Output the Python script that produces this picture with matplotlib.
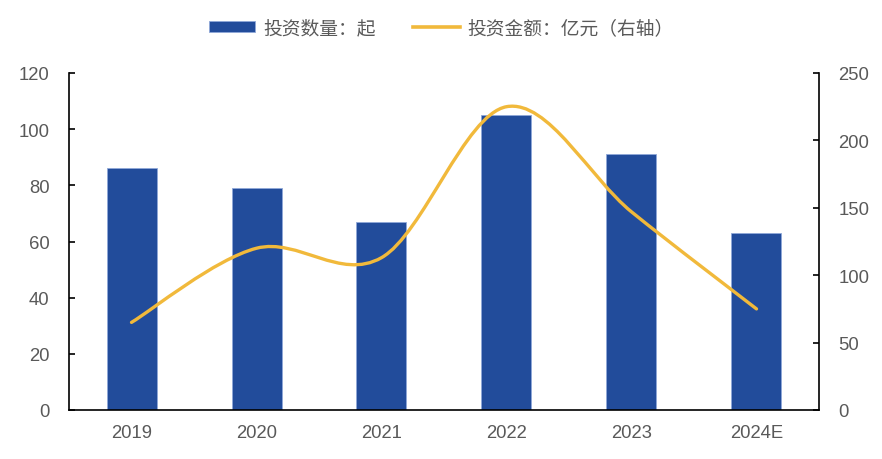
import matplotlib
matplotlib.use("Agg")
import matplotlib.pyplot as plt
import numpy as np
from matplotlib.path import Path
from matplotlib.patches import PathPatch, Patch
from matplotlib.lines import Line2D

categories = ["2019", "2020", "2021", "2022", "2023", "2024E"]
deal_counts = [86, 79, 67, 105, 91, 63]
amounts = [65, 120, 113, 225, 147, 75]
left_ticks = [0, 20, 40, 60, 80, 100, 120]
right_ticks = [0, 50, 100, 150, 200, 250]
label_bar = "投资数量：起"
label_line = "投资金额：亿元（右轴）"

BAR_C = "#224C9B"
LINE_C = "#F1B93B"
TXT_C = "#595959"

plt.rcParams['font.family'] = ['Liberation Sans', 'Noto Sans CJK SC', 'DejaVu Sans']

fig = plt.figure(figsize=(8.82, 4.6), dpi=100)
ax = fig.add_axes([69/882, 1-411/460, (819-69)/882, (411-74)/460])
x = np.arange(len(categories))
ax.bar(x, deal_counts, width=0.4, color=BAR_C, edgecolor="#8FA8D8", linewidth=0.6, zorder=2)
ax.set_xlim(-0.5, len(categories)-0.5)
ax.set_ylim(0, 120)
ax.set_yticks(left_ticks)
ax.set_xticks(x)
ax.set_xticklabels(categories)
for s in ["top", "right"]:
    ax.spines[s].set_visible(False)
ax.spines["left"].set_linewidth(1.2)
ax.spines["bottom"].set_linewidth(1.2)
ax.tick_params(axis="y", direction="in", length=4, width=1.2, labelsize=13.3, labelcolor=TXT_C, pad=14)
ax.tick_params(axis="x", length=0, labelsize=13.3, labelcolor=TXT_C, pad=10)

ax2 = ax.twinx()
ax2.set_ylim(0, 250)
ax2.set_yticks(right_ticks)
for s in ["top", "left", "bottom"]:
    ax2.spines[s].set_visible(False)
ax2.spines["right"].set_linewidth(1.2)
ax2.tick_params(axis="y", direction="in", length=4, width=1.2, labelsize=13.3, labelcolor=TXT_C, pad=14)

# smooth curve (Catmull-Rom as cubic Bezier) through the data points
pts = np.column_stack([x, amounts]).astype(float)
ext = np.vstack([pts[0], pts, pts[-1]])
verts = [tuple(pts[0])]
codes = [Path.MOVETO]
for i in range(len(pts)-1):
    p0, p1, p2, p3 = ext[i], ext[i+1], ext[i+2], ext[i+3]
    c1 = p1 + (p2 - p0) / 6
    c2 = p2 - (p3 - p1) / 6
    verts += [tuple(c1), tuple(c2), tuple(p2)]
    codes += [Path.CURVE4]*3
patch = PathPatch(Path(verts, codes), facecolor="none", edgecolor=LINE_C, linewidth=2.4,
                  capstyle="round", joinstyle="round", zorder=3)
ax2.add_patch(patch)

handles = [Patch(facecolor=BAR_C, edgecolor="#8FA8D8", linewidth=0.6),
           Line2D([0], [0], color=LINE_C, linewidth=2.6)]
fig.legend(handles, [label_bar, label_line], loc="center", bbox_to_anchor=(0.5, 1-29/460),
           ncol=2, frameon=False, fontsize=13.5, handlelength=2.5, handleheight=0.55,
           columnspacing=2.0, handletextpad=0.4, labelcolor=TXT_C)

fig.savefig("out.png", dpi=100)
